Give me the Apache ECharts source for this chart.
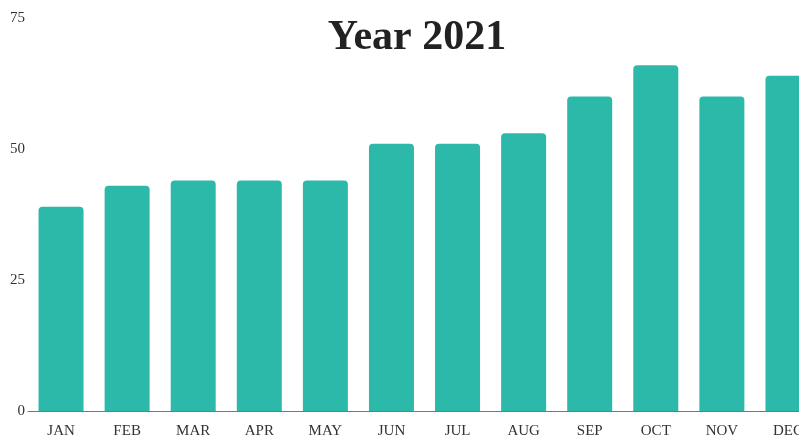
<!DOCTYPE html>
<html><head><meta charset="utf-8">
<script src="https://cdn.jsdelivr.net/npm/echarts@6/dist/echarts.min.js"></script>
<style>html,body{margin:0;padding:0;background:#fff}#c{width:799px;height:439px}</style>
</head><body><div id="c"></div>
<script>
const categories = ['JAN','FEB','MAR','APR','MAY','JUN','JUL','AUG','SEP','OCT','NOV','DEC'];
const values = [39, 43, 44, 44, 44, 51, 51, 53, 60, 66, 60, 64];
const yTicks = [0, 25, 50, 75];
const titleText = 'Year 2021';

const chart = echarts.init(document.getElementById('c'), null, {renderer:'canvas'});
chart.setOption({
  animation:false,
  backgroundColor:'#ffffff',
  title:{text:titleText,left:412,top:12,textAlign:'center',
    textStyle:{fontFamily:'Liberation Serif',fontWeight:'bold',fontSize:42,color:'#222'}},
  grid:{left:28,top:18,bottom:28,right:-22,containLabel:false,outerBoundsMode:'none'},
  xAxis:{type:'category',data:categories,
    axisLine:{lineStyle:{color:'#777',width:1}},axisTick:{show:false},
    axisLabel:{fontFamily:'Liberation Serif',fontSize:15,color:'#333',margin:13}},
  yAxis:{type:'value',min:yTicks[0],max:yTicks[yTicks.length-1],interval:25,
    axisLine:{show:false},axisTick:{show:false},splitLine:{show:false},
    axisLabel:{fontFamily:'Liberation Serif',fontSize:15,color:'#333',margin:3}},
  series:[{type:'bar',data:values,barWidth:45,
    itemStyle:{color:'#2cb9aa',borderRadius:[4,4,0,0]}}]
});
</script></body></html>
